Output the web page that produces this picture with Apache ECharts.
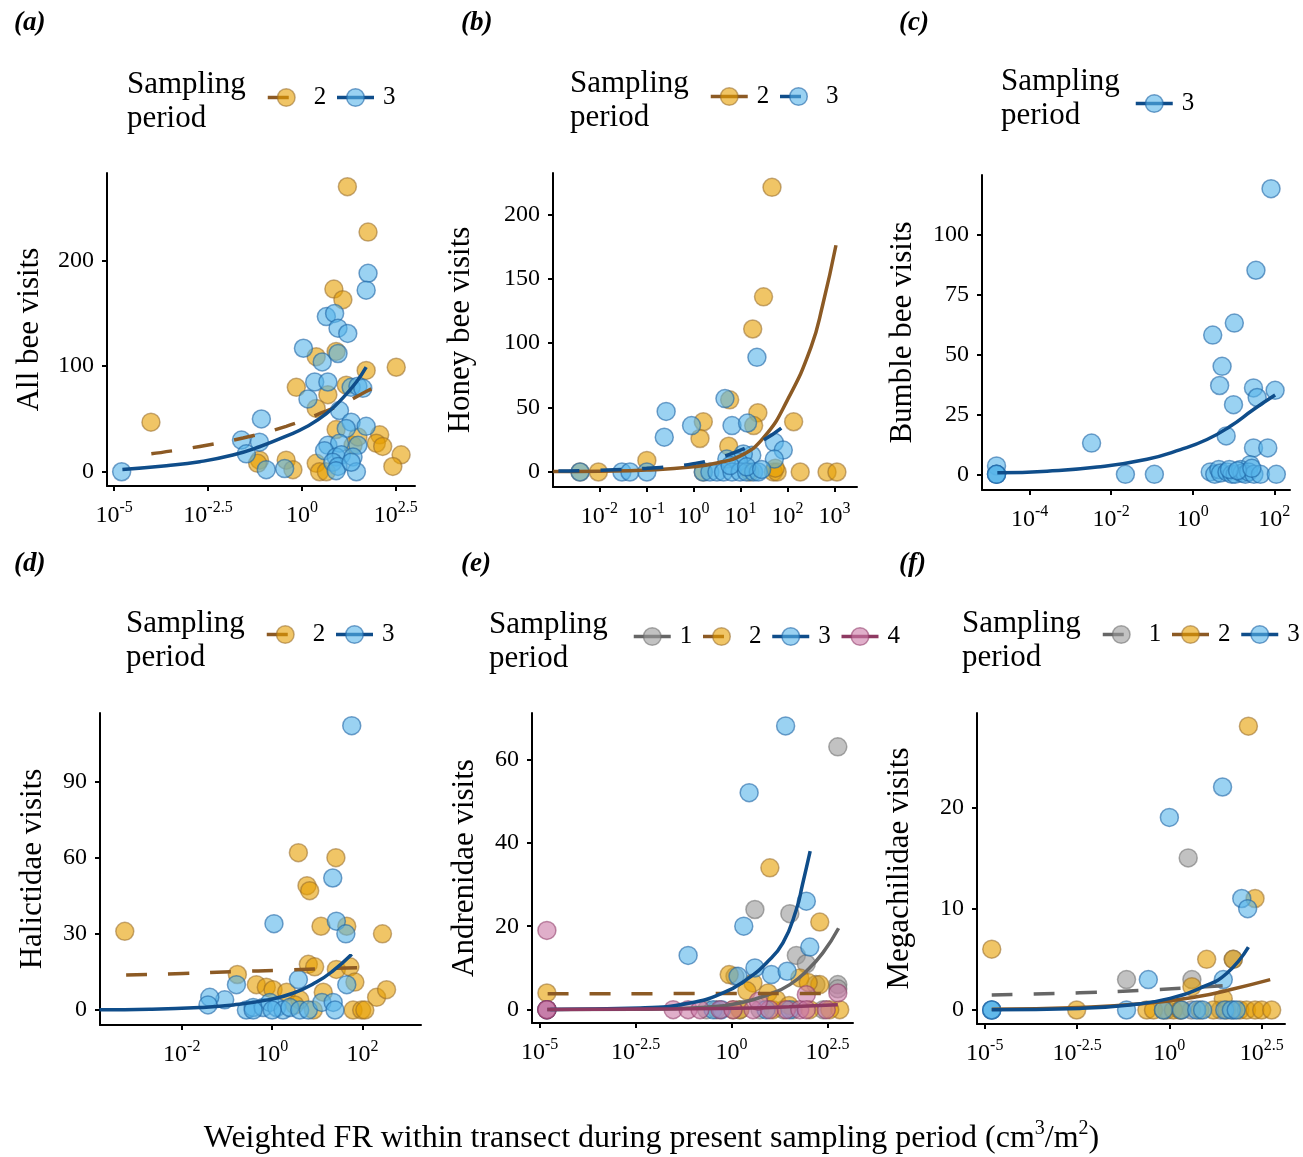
<!DOCTYPE html>
<html><head><meta charset="utf-8">
<script src="https://cdn.jsdelivr.net/npm/echarts@6/dist/echarts.min.js"></script>
<style>html,body{margin:0;padding:0;background:#fff}#c{width:1303px;height:1157px}</style>
</head><body><div id="c"></div>
<script>
// ---------- DATA (x = log10 of weighted FR, y = visits) ----------
// (a) All bee visits
const allBeeP2 = [[-4.02,47],[1.21,270],[1.76,227],[0.85,173],[1.09,163],[2.51,99],[1.71,96],[-0.15,80],[0.38,109],[0.91,114],[0.69,73],[0.38,60],[1.18,82],[0.91,40],[2.07,35],[1.98,27],[2.15,24],[2.64,16],[2.42,5],[-1.13,11],[-0.42,11],[-0.24,2],[0.38,8],[0.47,0],[0.65,0],[1.36,25],[-1.18,8],[1.49,33]];
const allBeeP3 = [[-4.80,0],[-1.08,50],[-1.61,30],[-1.48,17],[-1.13,28],[-0.95,2],[-0.46,3],[0.04,117],[0.16,69],[0.54,104],[0.34,85],[0.69,85],[0.65,147],[0.87,150],[0.96,136],[1.22,131],[0.96,112],[1.76,188],[1.71,172],[1.31,80],[1.49,81],[1.62,79],[1.0,58],[1.31,47],[1.18,41],[1.71,43],[0.69,25],[1.0,27],[1.49,25],[0.6,20],[0.91,14],[1.05,16],[1.36,14],[0.82,9],[0.96,5],[1.45,0],[0.91,1],[1.31,9]];
const allBeeFit2 = [[-4.01,17],[-2.72,24],[-1.57,32],[-0.42,43],[0.47,55],[1.18,66],[1.71,76],[2.29,86]];
const allBeeFit3 = [[-4.78,2.2],[-3.61,5.7],[-2.72,9.5],[-1.84,15.8],[-1.13,23.7],[-0.42,33.8],[0.12,42.6],[0.65,55],[1.09,70],[1.45,85],[1.71,99]];
// (b) Honey bee visits
const honeyP2 = [[1.67,221],[1.49,136],[1.26,111],[1.37,46],[2.13,39],[0.21,39],[0.14,26],[-0.99,9],[0.77,56],[1.28,36],[0.75,20],[-2.02,0],[-2.41,0],[1.70,0],[1.78,0],[2.27,0],[2.84,0],[3.05,0],[0.21,0],[1.20,0],[1.74,3]];
const honeyP3 = [[-0.58,47],[-0.62,27],[-0.04,36],[0.67,57],[0.82,36],[1.15,38],[1.35,89],[1.72,23],[1.91,17],[1.72,10],[1.24,13],[1.06,14],[0.96,8],[0.71,10],[-1.52,0],[-1.35,0],[-0.99,0],[-2.41,0],[0.21,0],[0.35,0],[0.50,0],[0.64,0],[0.82,0],[0.99,0],[1.13,0],[1.28,0],[1.38,0],[0.78,5],[1.13,4],[1.45,2]];
const honeyFit2 = [[-2.98,0.3],[-2,0.6],[-1,1.5],[0,4],[0.5,7],[1,12.5],[1.5,27],[2,56],[2.5,97],[2.75,130],[3.03,176]];
const honeyFit3 = [[-2.87,0.8],[-2,1.3],[-1,2.8],[-0.5,4.2],[0,6.5],[0.5,10.5],[1,17],[1.5,25],[1.9,35]];
// (c) Bumble bee visits
const bumbleP3 = [[1.92,119],[1.55,85],[1.02,63],[0.49,58],[0.72,45],[0.66,37],[1.49,36],[1.58,32],[2.02,35],[1.0,29],[0.82,16],[1.49,11],[1.84,11],[1.41,4],[-2.48,13],[-1.65,0],[-0.94,0],[-4.81,3.5],[-4.81,0],[-4.81,0],[-4.81,0],[0.43,1],[0.54,0],[0.64,2],[0.68,0.5],[0.84,1],[0.96,0],[1.04,0],[1.17,2],[1.21,0.5],[1.29,0],[1.37,1],[1.5,0],[1.66,0],[2.05,0],[0.9,2],[1.1,1.5],[1.45,2.5]];
const bumbleFit3 = [[-4.79,0.6],[-3.57,1.3],[-2.34,3],[-1.12,6.3],[-0.3,10.3],[0.35,14.5],[0.92,20],[1.49,27],[2.02,33]];
// (d) Halictidae visits
const halictP2 = [[-3.26,31],[0.58,62],[1.41,60],[0.77,49],[0.83,47],[1.08,33],[1.65,33],[2.44,30],[-0.77,14],[-0.35,10],[-0.13,9],[0.02,8],[0.32,7],[0.80,18],[0.94,17],[1.42,16],[1.72,17],[1.83,11],[2.31,5],[2.53,8],[1.13,7],[1.79,0],[1.98,0],[2.05,0],[0.61,4],[0.91,0],[0.5,2]];
const halictP3 = [[1.76,112],[1.34,52],[0.04,34],[1.42,35],[1.63,30],[1.65,10],[0.58,12],[-0.79,10],[-1.05,4],[-1.38,5],[-1.42,2],[-0.57,0],[-0.42,1],[-0.2,1],[-0.05,3],[0.1,1],[0.24,0],[0.39,1],[0.61,0],[0.8,0],[1.1,3],[1.35,3],[1.39,0],[-0.42,0],[0.0,0]];
const halictFit2 = [[-3.23,13.8],[-1.97,14.4],[-0.86,15.1],[0.24,15.7],[1.35,16.4],[2.27,16.8]];
const halictFit3 = [[-3.82,0.1],[-2.71,0.3],[-1.6,1.0],[-0.86,2],[-0.13,3.9],[0.46,6.6],[0.98,11],[1.35,15.5],[1.76,22]];
// (e) Andrenidae visits
const andrenP1 = [[2.77,63],[0.61,24],[1.52,23],[1.69,13],[1.95,11],[2.77,6],[2.77,5],[0.09,8],[-0.65,0],[-0.39,0],[0.22,0],[0.74,0],[1.35,0],[1.61,0],[2.39,0],[-4.81,0],[2.2,6]];
const andrenP2 = [[1.0,34],[2.3,21],[-0.06,8.4],[0.56,6.4],[0.95,4],[1.78,7.6],[2.3,6],[-4.81,4],[2.82,0],[2.56,0],[2.04,0],[1.08,0],[0.22,0],[0.04,0],[1.17,2.4],[0.4,4.5],[2.0,6.5],[1.5,1]];
const andrenP3 = [[1.41,68],[0.46,52],[1.95,26],[0.32,20],[2.04,15],[-1.13,13],[0.61,10],[1.04,8.4],[1.45,9.2],[0.17,8],[-0.48,0],[-0.26,0],[1.52,0],[0.9,0],[-4.81,0]];
const andrenP4 = [[-4.81,19],[-4.81,0],[-4.81,0],[-4.81,0],[2.77,4],[1.95,3.6],[-1.52,0],[-1.13,0],[-0.82,0],[-0.3,0],[0.04,0],[0.56,0],[0.99,0],[1.43,0],[1.78,0],[1.95,0],[2.47,0],[0.7,2]];
const andrenFit1 = [[-4.8,0.02],[-2.5,0.1],[-0.65,0.6],[0.22,1.6],[1.08,4],[1.52,6],[1.95,9.2],[2.38,13.6],[2.79,19.5]];
const andrenFit2 = [[-4.79,3.8],[-1,3.85],[2.77,3.9]];
const andrenFit3 = [[-4.72,0.05],[-2.38,0.4],[-1.08,1.6],[-0.22,4],[0.39,7.2],[0.91,11.2],[1.34,16],[1.69,24],[1.85,30],[2.05,38]];
const andrenFit4 = [[-4.8,0.05],[-1,0.2],[0.5,0.4],[1.5,0.7],[2.77,1.2]];
// (f) Megachilidae visits
const megaP1 = [[0.51,15],[-1.16,3],[0.61,3],[1.73,5],[-0.07,0],[0.29,0],[1.38,0],[1.73,0],[0.6,0]];
const megaP2 = [[2.14,28],[2.32,11],[-4.81,6],[1.01,5],[1.73,5],[0.61,2.3],[1.46,1.1],[-2.51,0],[-0.61,0],[-0.43,0],[-0.16,0],[0.11,0],[0.83,0],[1.19,0],[1.55,0],[1.91,0],[2.09,0],[2.32,0],[2.5,0],[2.77,0],[0.3,0]];
const megaP3 = [[0,19],[1.44,22],[1.96,11],[2.12,10],[-0.57,3],[1.46,3],[-4.81,0],[-4.81,0],[-4.81,0],[-1.16,0],[-0.16,0],[0.33,0],[0.74,0],[1.5,0],[1.68,0],[1.81,0],[0.9,0]];
const megaFit1 = [[-4.81,1.48],[-2.42,1.7],[-0.61,1.97],[0.74,2.23],[1.91,2.5]];
const megaFit2 = [[-4.81,0.07],[-2.42,0.26],[-0.61,0.66],[0.74,1.3],[1.64,2.0],[2.73,3.0]];
const megaFit3 = [[-4.81,0.03],[-2.42,0.16],[-1.07,0.5],[0.02,1.15],[0.92,2.3],[1.55,3.6],[2.14,6.2]];

// tick values (x ticks are log10 exponents)
const xTicksA = [-5,-2.5,0,2.5], yTicksA = [0,100,200];
const xTicksB = [-2,-1,0,1,2,3], yTicksB = [0,50,100,150,200];
const xTicksC = [-4,-2,0,2], yTicksC = [0,25,50,75,100];
const xTicksD = [-2,0,2], yTicksD = [0,30,60,90];
const xTicksE = [-5,-2.5,0,2.5], yTicksE = [0,20,40,60];
const xTicksF = [-5,-2.5,0,2.5], yTicksF = [0,10,20];

const tags = ['(a)','(b)','(c)','(d)','(e)','(f)'];
const yTitles = ['All bee visits','Honey bee visits','Bumble bee visits','Halictidae visits','Andrenidae visits','Megachilidae visits'];
const legendTitle = 'Sampling\nperiod';
const xTitle = 'Weighted FR within transect during present sampling period (cm{s|3}/m{s|2})';

// ---------- STYLE / LAYOUT ----------
const FONT = '"Liberation Serif", "Times New Roman", serif';
const PS = {
  1: {fill:'rgba(153,153,153,0.6)', border:'rgba(105,105,105,0.55)', line:'#666666'},
  2: {fill:'rgba(230,159,0,0.6)',   border:'rgba(150,105,40,0.55)',  line:'#8C5A24'},
  3: {fill:'rgba(86,180,233,0.6)',  border:'rgba(30,100,165,0.6)',   line:'#0F4D8A'},
  4: {fill:'rgba(204,121,167,0.6)', border:'rgba(140,55,100,0.55)',  line:'#8E3A62'}
};
const panels = [
  {key:'a', grid:{left:107,top:173,width:308,height:313}, xr:[-5.19,3.01], yr:[-13.5,283], xt:xTicksA, yt:yTicksA, nameGap:62, tag:[14,10], lt:[127,68], lg:[266,85],
   pts:[[2,allBeeP2],[3,allBeeP3]], fits:[[2,allBeeFit2,true],[3,allBeeFit3,false]]},
  {key:'b', grid:{left:553,top:173,width:304,height:314}, xr:[-2.985,3.477], yr:[-11.65,232.1], xt:xTicksB, yt:yTicksB, nameGap:77, tag:[461,10], lt:[570,67], lg:[709,84],
   pts:[[2,honeyP2],[3,honeyP3]], fits:[[2,honeyFit2,false],[3,honeyFit3,true]]},
  {key:'c', grid:{left:982,top:175,width:308,height:315}, xr:[-5.166,2.385], yr:[-6.54,124.7], xt:xTicksC, yt:yTicksC, nameGap:64, tag:[899,10], lt:[1001,65], lg:[1134,91],
   pts:[[3,bumbleP3]], fits:[[3,bumbleFit3,false]]},
  {key:'d', grid:{left:100,top:713,width:321,height:312}, xr:[-3.808,3.292], yr:[-5.9,117], xt:xTicksD, yt:yTicksD, nameGap:52, tag:[14,551], lt:[126,607], lg:[265,622],
   pts:[[2,halictP2],[3,halictP3]], fits:[[2,halictFit2,true],[3,halictFit3,false]]},
  {key:'e', grid:{left:532,top:713,width:321,height:310}, xr:[-5.198,3.166], yr:[-3.2,71.1], xt:xTicksE, yt:yTicksE, nameGap:52, tag:[461,551], lt:[489,608], lg:[632,624],
   pts:[[1,andrenP1],[2,andrenP2],[3,andrenP3],[4,andrenP4]], fits:[[1,andrenFit1,false],[2,andrenFit2,true],[3,andrenFit3,false],[4,andrenFit4,false]]},
  {key:'f', grid:{left:977,top:713,width:308,height:311}, xr:[-5.209,3.131], yr:[-1.38,29.3], xt:xTicksF, yt:yTicksF, nameGap:62, tag:[899,551], lt:[962,607], lg:[1101,622],
   pts:[[1,megaP1],[2,megaP2],[3,megaP3]], fits:[[1,megaFit1,true],[2,megaFit2,false],[3,megaFit3,false]]}
];

const grids=[], xAxes=[], yAxes=[], series=[], legends=[], titles=[];
const axisLineStyle = {color:'#000', width:2};
panels.forEach((p,i)=>{
  grids.push(Object.assign({outerBoundsMode:'none', containLabel:false}, p.grid));
  xAxes.push({type:'value', gridIndex:i, min:p.xr[0], max:p.xr[1],
    axisLine:{show:true,onZero:false,lineStyle:axisLineStyle},
    axisTick:{show:true,length:5,lineStyle:{color:'#000',width:2},customValues:p.xt},
    axisLabel:{customValues:p.xt, margin:14, formatter:v=>'{b|10}{s|'+v+'}',
      rich:{b:{fontSize:24,fontFamily:FONT,color:'#000',lineHeight:32},
            s:{fontSize:16,fontFamily:FONT,color:'#000',lineHeight:17,verticalAlign:'top'}}},
    splitLine:{show:false}});
  yAxes.push({type:'value', gridIndex:i, min:p.yr[0], max:p.yr[1],
    name:yTitles[i], nameLocation:'middle', nameGap:p.nameGap, nameMoveOverlap:false,
    nameTextStyle:{fontSize:31,fontFamily:FONT,color:'#000'},
    axisLine:{show:true,onZero:false,lineStyle:axisLineStyle},
    axisTick:{show:true,length:5,lineStyle:{color:'#000',width:2},customValues:p.yt},
    axisLabel:{customValues:p.yt, margin:13, fontSize:24, fontFamily:FONT, color:'#000'},
    splitLine:{show:false}});
  p.pts.forEach(([per,data])=>{
    series.push({type:'scatter', name:'p'+p.key+per, xAxisIndex:i, yAxisIndex:i, data:data,
      symbolSize:18, silent:true, z:2,
      itemStyle:{color:PS[per].fill, borderColor:PS[per].border, borderWidth:1.5, opacity:1}});
  });
  const names=[];
  p.fits.forEach(([per,data,dash])=>{
    names.push(p.key+per);
    series.push({type:'line', name:p.key+per, xAxisIndex:i, yAxisIndex:i, data:data,
      smooth:true, showSymbol:false, symbol:'circle', symbolSize:18, silent:true, z:5,
      itemStyle:{color:PS[per].fill, borderColor:PS[per].border, borderWidth:1.5},
      lineStyle:{color:PS[per].line, width:3.5, type: dash?[21,21]:'solid', cap:'butt'}});
  });
  legends.push({left:p.lg[0], top:p.lg[1], width:400, padding:0, orient:'horizontal', itemWidth:37, itemHeight:22, itemGap:9,
    selectedMode:false, data:names, formatter:n=>'{t|'+n.slice(1)+'}',
    textStyle:{fontSize:25,fontFamily:FONT,color:'#000',
      rich:{t:{fontSize:25,fontFamily:FONT,color:'#000',padding:[0,0,0,4]}}},
    lineStyle:{width:3.5}, itemStyle:{borderWidth:1.5}});
  titles.push({text:tags[i], left:p.tag[0], top:p.tag[1], padding:0,
    textStyle:{fontSize:27,fontFamily:FONT,fontWeight:'bold',fontStyle:'italic',color:'#000'}});
  titles.push({text:legendTitle, left:p.lt[0], top:p.lt[1], padding:0,
    textStyle:{fontSize:31,fontFamily:FONT,fontWeight:'normal',color:'#000',lineHeight:34}});
});
titles.push({text:xTitle, left:'center', top:1119, padding:0,
  textStyle:{fontSize:32,fontFamily:FONT,fontWeight:'normal',color:'#000',lineHeight:40,
    rich:{s:{fontSize:20,fontFamily:FONT,color:'#000',lineHeight:22,verticalAlign:'top'}}}});

const chart = echarts.init(document.getElementById('c'), null, {renderer:'canvas'});
chart.setOption({backgroundColor:'#fff', animation:false, title:titles, legend:legends,
  grid:grids, xAxis:xAxes, yAxis:yAxes, series:series});
</script></body></html>
